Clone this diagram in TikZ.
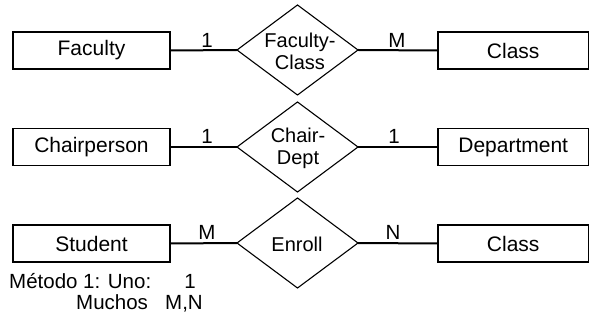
\documentclass[tikz,border=0pt]{standalone}
\usepackage{fontspec}
\setmainfont{Liberation Sans}
\usetikzlibrary{shapes.geometric}
\begin{document}
\begin{tikzpicture}[x=1pt,y=-1pt,
  font=\fontsize{21}{23}\selectfont,
  ent/.style={draw, line width=1.1pt, minimum height=37pt, inner sep=0pt, outer sep=0pt},
  rel/.style={draw, diamond, line width=1.1pt, minimum width=121pt, minimum height=90pt, inner sep=0pt, outer sep=0pt},
  reltext/.style={align=center, inner sep=0pt, font=\fontsize{20}{22}\selectfont},
  conn/.style={line width=2pt},
  card/.style={inner sep=0pt, font=\fontsize{20.5}{22}\selectfont}]
\useasboundingbox (0,0) rectangle (589,320);
% row 1
\node[ent, minimum width=157pt] (fac) at (91.5,50.5) {Faculty};
\node[rel] (fc) at (297.5,50) {};
\node[reltext] (fct) at (300,51) {Faculty-\\Class};
\node[ent, minimum width=150.5pt] (cls1) at (513.2,50.5) {Class};
\draw[conn] (fac.east) -- (fc.west);
\draw[conn] (fc.east) -- (cls1.west);
\node[card] (c1a) at (207,40) {1};
\node[card] (c1b) at (397,40) {M};
% row 2
\node[ent, minimum width=157pt] (chp) at (91.5,147) {Chairperson};
\node[rel] (cd) at (297.5,147) {};
\node[reltext] (cdt) at (298,148) {Chair-\\Dept};
\node[ent, minimum width=150.5pt] (dep) at (513.2,147) {Department};
\draw[conn] (chp.east) -- (cd.west);
\draw[conn] (cd.east) -- (dep.west);
\node[card] (c2a) at (207,136) {1};
\node[card] (c2b) at (394,136) {1};
% row 3
\node[ent, minimum width=157pt] (stu) at (91.5,243.5) {Student};
\node[rel] (enr) at (297.5,243) {};
\node[reltext] (enrt) at (297,244) {Enroll};
\node[ent, minimum width=150.5pt] (cls2) at (513.2,243.5) {Class};
\draw[conn] (stu.east) -- (enr.west);
\draw[conn] (enr.east) -- (cls2.west);
\node[card] (c3a) at (207,232) {M};
\node[card] (c3b) at (393,232) {N};
% legend
\node[anchor=base west, inner sep=0pt, font=\fontsize{20.5}{22}\selectfont] (l1) at (9,289) {Método 1: Uno:};
\node[anchor=base, inner sep=0pt, font=\fontsize{20.5}{22}\selectfont] (l2) at (190,289) {1};
\node[anchor=base west, inner sep=0pt, font=\fontsize{20.5}{22}\selectfont] (l3) at (76,309) {Muchos};
\node[anchor=base west, inner sep=0pt, font=\fontsize{20.5}{22}\selectfont] (l4) at (165,309) {M,N};
\end{tikzpicture}
\end{document}
